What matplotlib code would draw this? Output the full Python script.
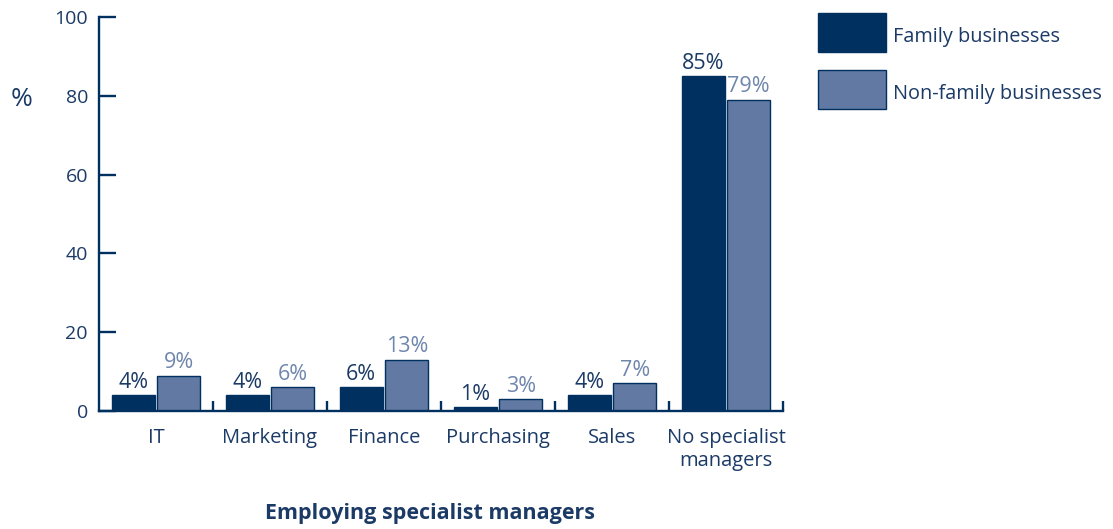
import numpy as np
import matplotlib.pyplot as plt
from matplotlib.patches import Rectangle

categories = ["IT", "Marketing", "Finance", "Purchasing", "Sales", "No specialist\nmanagers"]
family = [4, 4, 6, 1, 4, 85]
non_family = [9, 6, 13, 3, 7, 79]
series_names = ["Family businesses", "Non-family businesses"]

dark = "#00305f"
light = "#627aa3"
text_col = "#1b3a66"
light_text = "#6f86ad"

plt.rcParams['font.family'] = ['Open Sans', 'DejaVu Sans']

fig = plt.figure(figsize=(11.13, 5.29), dpi=100)
W, H = 1113, 529
ax = fig.add_axes([99 / W, 1 - 411 / H, (783 - 99) / W, (411 - 17) / H])

x = np.arange(len(categories))
bw = 0.375
off = 0.2
ax.bar(x - off, family, bw, color=dark, edgecolor=dark, linewidth=1)
ax.bar(x + off, non_family, bw, color=light, edgecolor=dark, linewidth=1)

for xi, v in zip(x, family):
    ax.text(xi - off, v + 0.6, f"{v}%", ha="center", va="bottom", fontsize=15.5, color=text_col)
for xi, v in zip(x, non_family):
    ax.text(xi + off, v + 0.6, f"{v}%", ha="center", va="bottom", fontsize=15.5, color=light_text)

ax.set_xlim(-0.5, len(categories) - 0.5)
ax.set_ylim(0, 100)
ax.set_yticks(np.arange(0, 101, 20))
ax.set_xticks(x)
ax.set_xticklabels(categories, fontsize=14.5, color=text_col, linespacing=1.2)
ax.set_xticks(np.arange(0.5, len(categories), 1), minor=True)
ax.tick_params(axis="x", which="major", length=0, pad=12)
ax.tick_params(axis="x", which="minor", direction="in", length=7, width=1.7, color=dark)
ax.tick_params(axis="y", direction="in", length=12, width=1.7, color=dark,
               labelsize=14, labelcolor=text_col, pad=8)
for s in ["top", "right"]:
    ax.spines[s].set_visible(False)
for s in ["left", "bottom"]:
    ax.spines[s].set_color(dark)
    ax.spines[s].set_linewidth(1.7)
ax.spines["left"].set_capstyle("projecting")

fig.text(22 / W, 1 - 100 / H, "%", fontsize=19, color=text_col, ha="center", va="center")
fig.text(430 / W, 1 - 514 / H, "Employing specialist managers", fontsize=15.5,
         fontweight="bold", color=text_col, ha="center", va="center")

# legend
for i, (name, col) in enumerate(zip(series_names, [dark, light])):
    y0 = 13 + i * 57
    fig.add_artist(Rectangle((818 / W, 1 - (y0 + 39) / H), 68 / W, 39 / H,
                             facecolor=col, edgecolor=dark, linewidth=1,
                             transform=fig.transFigure))
    fig.text(893 / W, 1 - (y0 + 24) / H, name, fontsize=14.3, color=text_col,
             ha="left", va="center")

fig.savefig("out.png", dpi=100)
